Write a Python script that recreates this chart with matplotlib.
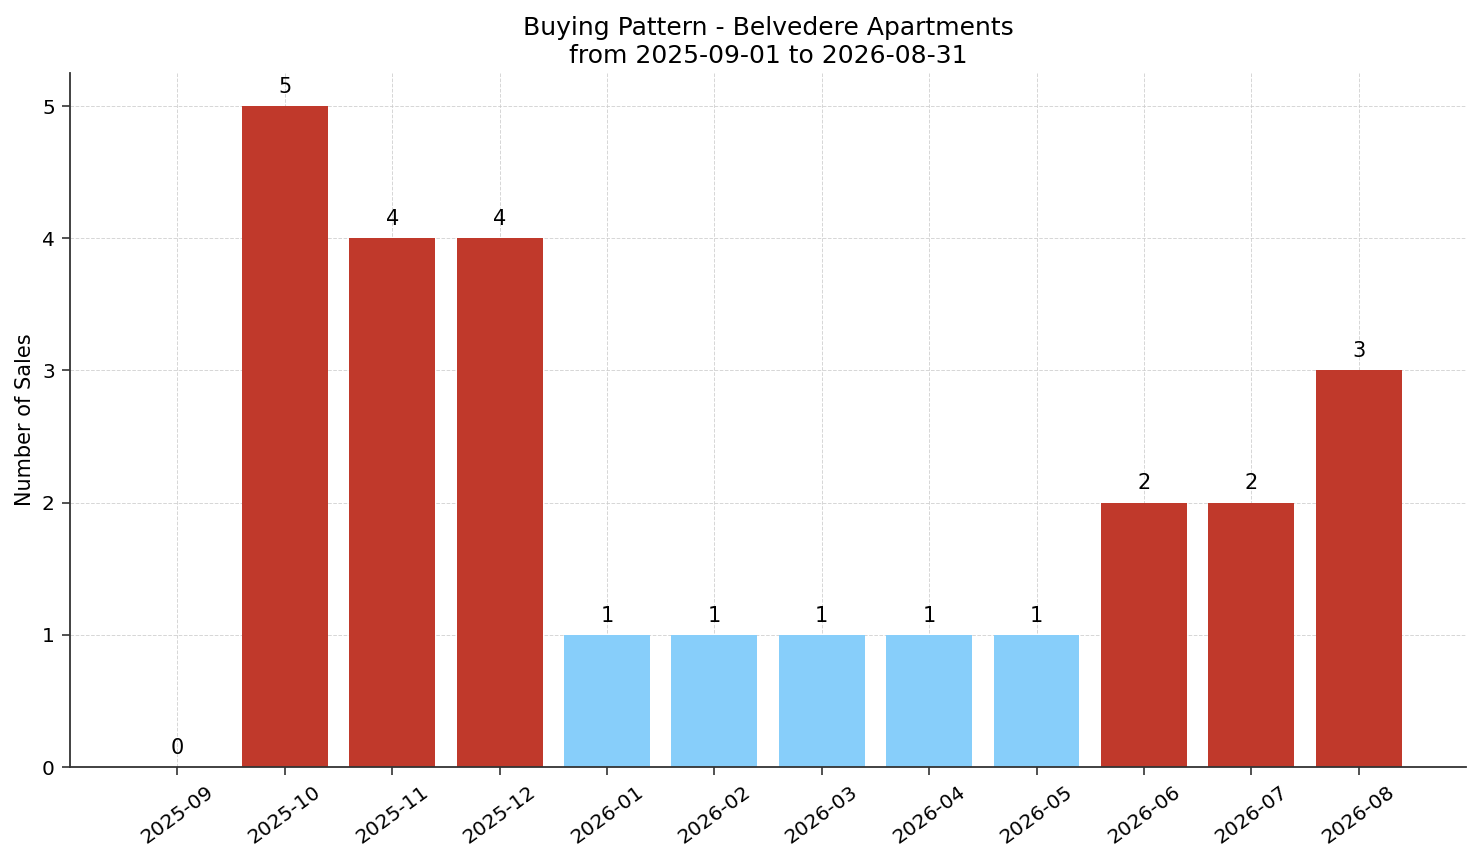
import matplotlib
matplotlib.use("Agg")
import matplotlib.pyplot as plt

months = ["2025-09", "2025-10", "2025-11", "2025-12", "2026-01", "2026-02",
          "2026-03", "2026-04", "2026-05", "2026-06", "2026-07", "2026-08"]
sales = [0, 5, 4, 4, 1, 1, 1, 1, 1, 2, 2, 3]
high_color = "#c0392b"
low_color = "#87cefa"
threshold = 2

colors = [high_color if v >= threshold else low_color for v in sales]

fig, ax = plt.subplots(figsize=(14.81, 8.63), dpi=100)
fig.subplots_adjust(left=0.0473, right=0.9899, top=0.9154, bottom=0.1112)

x = list(range(len(months)))
ax.bar(x, sales, color=colors, width=0.8, zorder=2)
for xi, v in zip(x, sales):
    ax.text(xi, v + 0.07, str(v), ha="center", va="bottom", fontsize=15)

ax.set_xticks(x)
ax.set_xticklabels(months, rotation=36, fontsize=14.5)
ax.tick_params(axis="y", labelsize=14.5)
ax.tick_params(length=6, width=1.2, color="#333333", pad=5)
ax.set_ylabel("Number of Sales", fontsize=15, labelpad=5)
ax.set_title("Buying Pattern - Belvedere Apartments\nfrom 2025-09-01 to 2026-08-31", fontsize=18, pad=7)
ax.set_ylim(0, 5.25)
ax.set_xlim(-1.0, 12.0)
ax.grid(True, linestyle="--", color="#cccccc", alpha=0.8, linewidth=0.7, zorder=0)
ax.set_axisbelow(True)
ax.spines["top"].set_visible(False)
ax.spines["right"].set_visible(False)
for s in ("left", "bottom"):
    ax.spines[s].set_color("#333333")
    ax.spines[s].set_linewidth(1.3)

fig.savefig("out.png", dpi=100)
